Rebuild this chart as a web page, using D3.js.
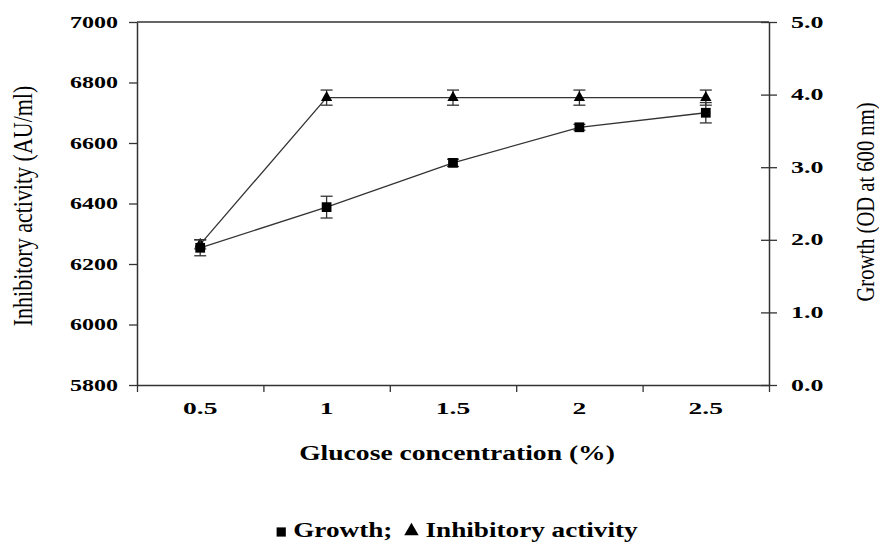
<!DOCTYPE html>
<html>
<head>
<meta charset="utf-8">
<script src="https://cdn.jsdelivr.net/npm/d3@7"></script>
<style>
  html, body { margin: 0; padding: 0; background: #fff; }
  svg { display: block; }
  text { font-family: "Liberation Serif", "Times New Roman", serif; fill: #000; }
</style>
</head>
<body>
<svg id="chart" width="879" height="542"></svg>
<script>
// ---- Data ----
const categories = ["0.5", "1", "1.5", "2", "2.5"];
const growth = [1.89, 2.45, 3.06, 3.55, 3.75];          // OD at 600 nm (right axis)
const growthErr = [0.11, 0.15, 0.05, 0.04, 0.14];
const inhibitory = [6265, 6750, 6750, 6750, 6750];       // AU/ml (left axis)
const inhibitoryErr = [15, 25, 25, 25, 25];
const leftTicks = [5800, 6000, 6200, 6400, 6600, 6800, 7000];
const rightTicks = [0, 1, 2, 3, 4, 5];
const xTitle = "Glucose concentration (%)";
const yLeftTitle = "Inhibitory activity (AU/ml)";
const yRightTitle = "Growth (OD at 600 nm)";
const legendLabels = ["Growth;", "Inhibitory activity"];

// ---- Layout ----
const L = 137, R = 769, T = 22, B = 385;
const ink = "#333";
const svg = d3.select("#chart");

const x = d3.scaleBand().domain(categories).range([L, R]).padding(0);
const xEdge = d3.scaleLinear().domain([0, categories.length]).range([L, R]);
const yL = d3.scaleLinear().domain([5800, 7000]).range([B, T]);
const yR = d3.scaleLinear().domain([0, 5]).range([B, T]);

function stretchLabels(g, sx, anchor) {
  g.selectAll(".tick text").each(function () {
    const t = d3.select(this);
    const tx = +t.attr("x") || 0;
    const ty = +t.attr("y") || 0;
    t.attr("x", 0).attr("y", 0)
     .attr("text-anchor", anchor)
     .attr("transform", `translate(${tx},${ty}) scale(${sx},1)`);
  });
}

// top border
svg.append("line")
  .attr("x1", L).attr("x2", R).attr("y1", yL(7000)).attr("y2", yL(7000))
  .attr("stroke", ink).attr("stroke-width", 1.5);

// left axis
const gL = svg.append("g").attr("transform", `translate(${L},0)`)
  .call(d3.axisLeft(yL).tickValues(leftTicks).tickSize(8).tickSizeOuter(0).tickPadding(11)
        .tickFormat(d3.format("d")));
gL.selectAll("text").attr("font-size", 16).attr("font-weight", "bold").attr("fill", "#000");
stretchLabels(gL, 1.5, "end");

// right axis (ticks cross the line)
const gR = svg.append("g").attr("transform", `translate(${R},0)`)
  .call(d3.axisRight(yR).tickValues(rightTicks).tickSize(8).tickSizeOuter(0).tickPadding(14)
        .tickFormat(d3.format(".1f")));
gR.selectAll(".tick line").attr("x1", -8).attr("x2", 8);
gR.selectAll("text").attr("font-size", 16).attr("font-weight", "bold").attr("fill", "#000");
stretchLabels(gR, 1.62, "start");

// bottom axis: boundary ticks
const gB = svg.append("g").attr("transform", `translate(0,${B})`)
  .call(d3.axisBottom(xEdge).tickValues(d3.range(categories.length + 1)).tickSize(7)
        .tickSizeOuter(0).tickFormat(""));
// bottom category labels
const gBL = svg.append("g").attr("transform", `translate(0,${B})`)
  .call(d3.axisBottom(x).tickSize(0).tickPadding(26));
gBL.select(".domain").remove();
gBL.selectAll("text").attr("font-size", 17).attr("font-weight", "bold").attr("fill", "#000").attr("dy", "0.2em");
gBL.selectAll(".tick text").each(function () {
  const t = d3.select(this);
  const ty = +t.attr("y") || 0;
  t.attr("y", 0).attr("transform", `translate(0,${ty}) scale(1.62,1)`);
});

[gL, gR, gB].forEach(g => {
  g.selectAll("path.domain").attr("stroke", ink).attr("stroke-width", 1.5);
  g.selectAll(".tick line").attr("stroke", ink).attr("stroke-width", 1.3);
});

// axis titles
svg.append("text")
  .attr("text-anchor", "middle").attr("font-size", 20).attr("font-weight", "bold")
  .attr("transform", `translate(${(L + R) / 2 + 4},460) scale(1.38,1)`)
  .text(xTitle);
svg.append("text")
  .attr("text-anchor", "middle").attr("font-size", 22)
  .attr("transform", "translate(32,206) rotate(-90) scale(1,1.22)")
  .text(yLeftTitle);
svg.append("text")
  .attr("text-anchor", "middle").attr("font-size", 20.6)
  .attr("transform", "translate(874,202) rotate(-90) scale(1,1.22)")
  .text(yRightTitle);

// ---- series ----
const cx = d => x(d) + x.bandwidth() / 2;
const inhData = categories.map((c, i) => ({ c, v: inhibitory[i], e: inhibitoryErr[i] }));
const groData = categories.map((c, i) => ({ c, v: growth[i], e: growthErr[i] }));

function drawSeries(data, y, symbolType, size) {
  const g = svg.append("g");
  g.append("path").datum(data)
    .attr("fill", "none").attr("stroke", ink).attr("stroke-width", 1.3)
    .attr("d", d3.line().x(d => cx(d.c)).y(d => y(d.v)));
  const eb = g.selectAll("g.eb").data(data).join("g").attr("class", "eb");
  eb.append("line")
    .attr("x1", d => cx(d.c)).attr("x2", d => cx(d.c))
    .attr("y1", d => y(d.v - d.e)).attr("y2", d => y(d.v + d.e))
    .attr("stroke", ink).attr("stroke-width", 1.3);
  [-1, 1].forEach(s => {
    eb.append("line")
      .attr("x1", d => cx(d.c) - 6).attr("x2", d => cx(d.c) + 6)
      .attr("y1", d => y(d.v + s * d.e)).attr("y2", d => y(d.v + s * d.e))
      .attr("stroke", ink).attr("stroke-width", 1.3);
  });
  g.selectAll("path.mk").data(data).join("path").attr("class", "mk")
    .attr("transform", d => `translate(${cx(d.c)},${y(d.v)})`)
    .attr("d", d3.symbol().type(symbolType).size(size))
    .attr("fill", "#000");
}
drawSeries(inhData, yL, d3.symbolTriangle, 55);
drawSeries(groData, yR, d3.symbolSquare, 95);

// ---- legend ----
const legend = svg.append("g");
const symbols = [d3.symbolSquare, d3.symbolTriangle];
const symSizes = [85, 90];
const lgScale = 1.36;
let cursor = 0;
const items = [];
legendLabels.forEach((lab, i) => {
  const sym = legend.append("path").attr("d", d3.symbol().type(symbols[i]).size(symSizes[i])).attr("fill", "#000");
  const symW = i === 0 ? 10 : 14;
  const symX = cursor + symW / 2;
  cursor += symW + 7;
  const t = legend.append("text").attr("font-size", 20).attr("font-weight", "bold").text(lab);
  const w = t.node().getComputedTextLength() * lgScale;
  items.push({ sym, symX, t, tx: cursor });
  cursor += w + 12;
});
const total = cursor - 12;
const startX = 457 - total / 2;
const baseY = 537;
items.forEach((it, i) => {
  it.sym.attr("transform", `translate(${startX + it.symX},${baseY - (i === 0 ? 5 : 6)})`);
  it.t.attr("transform", `translate(${startX + it.tx},${baseY}) scale(${lgScale},1)`);
});
</script>
</body>
</html>
